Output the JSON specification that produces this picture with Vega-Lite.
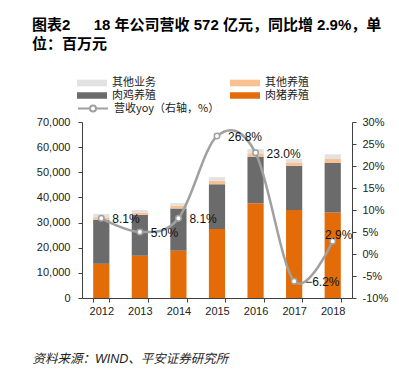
{
  "$schema": "https://vega.github.io/schema/vega-lite/v6.json",
  "width": 270,
  "height": 176,
  "autosize": {"type": "none"},
  "padding": {"left": 82, "top": 122, "right": 47, "bottom": 84},
  "background": "white",
  "config": {
    "view": {"stroke": null},
    "font": "Liberation Sans, Noto Sans CJK SC",
    "axis": {
      "domainColor": "#404040",
      "tickColor": "#404040",
      "tickSize": 4,
      "labelFont": "Liberation Sans",
      "labelFontSize": 11,
      "labelColor": "#222222",
      "grid": false
    }
  },
  "title": {
    "text": ["图表2\u3000\u00a0\u00a018 年公司营收 572 亿元，同比增 2.9%，单", "位：百万元"],
    "anchor": "start",
    "frame": "group",
    "dx": -50,
    "offset": 25,
    "fontSize": 15,
    "fontWeight": "bold",
    "font": "Liberation Sans, Noto Sans CJK SC",
    "color": "#000000",
    "lineHeight": 19.5
  },
  "datasets": {
    "rev": [
      {"year": "2012", "c": "肉猪养殖", "v": 13600},
      {"year": "2012", "c": "肉鸡养殖", "v": 17500},
      {"year": "2012", "c": "其他养殖", "v": 1000},
      {"year": "2012", "c": "其他业务", "v": 1350},
      {"year": "2013", "c": "肉猪养殖", "v": 16800},
      {"year": "2013", "c": "肉鸡养殖", "v": 16250},
      {"year": "2013", "c": "其他养殖", "v": 900},
      {"year": "2013", "c": "其他业务", "v": 1100},
      {"year": "2014", "c": "肉猪养殖", "v": 18800},
      {"year": "2014", "c": "肉鸡养殖", "v": 16800},
      {"year": "2014", "c": "其他养殖", "v": 1050},
      {"year": "2014", "c": "其他业务", "v": 1100},
      {"year": "2015", "c": "肉猪养殖", "v": 27400},
      {"year": "2015", "c": "肉鸡养殖", "v": 17850},
      {"year": "2015", "c": "其他养殖", "v": 1400},
      {"year": "2015", "c": "其他业务", "v": 1350},
      {"year": "2016", "c": "肉猪养殖", "v": 37700},
      {"year": "2016", "c": "肉鸡养殖", "v": 18500},
      {"year": "2016", "c": "其他养殖", "v": 1350},
      {"year": "2016", "c": "其他业务", "v": 1700},
      {"year": "2017", "c": "肉猪养殖", "v": 35000},
      {"year": "2017", "c": "肉鸡养殖", "v": 17600},
      {"year": "2017", "c": "其他养殖", "v": 1350},
      {"year": "2017", "c": "其他业务", "v": 1300},
      {"year": "2018", "c": "肉猪养殖", "v": 34000},
      {"year": "2018", "c": "肉鸡养殖", "v": 19700},
      {"year": "2018", "c": "其他养殖", "v": 1600},
      {"year": "2018", "c": "其他业务", "v": 1850}
    ],
    "yoy": [
      {"year": "2012", "yoy": 8.1},
      {"year": "2013", "yoy": 5.0},
      {"year": "2014", "yoy": 8.1},
      {"year": "2015", "yoy": 26.8},
      {"year": "2016", "yoy": 23.0},
      {"year": "2017", "yoy": -6.2},
      {"year": "2018", "yoy": 2.9}
    ]
  },
  "layer": [
    {
      "data": {"name": "rev"},
      "transform": [
        {"calculate": "indexof(['肉猪养殖','肉鸡养殖','其他养殖','其他业务'], datum.c)", "as": "ord"}
      ],
      "mark": {"type": "bar"},
      "encoding": {
        "x": {
          "field": "year",
          "type": "ordinal",
          "scale": {"paddingInner": 0.58, "paddingOuter": 0.29},
          "axis": {
            "title": "资料来源：WIND、平安证券研究所",
            "titleFont": "Liberation Sans, Noto Sans CJK SC",
            "titleFontStyle": "italic",
            "titleFontWeight": "normal",
            "titleFontSize": 12.5,
            "titleColor": "#222222",
            "titleX": -50,
            "titleY": 60,
            "titleAlign": "left",
            "titleBaseline": "middle",
            "labelAngle": 0,
            "labelPadding": 3,
            "tickBand": "extent"
          }
        },
        "y": {
          "field": "v",
          "type": "quantitative",
          "stack": "zero",
          "scale": {"domain": [0, 70000], "nice": false},
          "axis": {
            "title": null,
            "values": [0, 10000, 20000, 30000, 40000, 50000, 60000, 70000],
            "format": ",.0f",
            "labelPadding": 8
          }
        },
        "color": {
          "field": "c",
          "type": "nominal",
          "scale": {
            "domain": ["其他业务", "肉鸡养殖", "其他养殖", "肉猪养殖"],
            "range": ["#E2E2E2", "#6B6B6B", "#FAC090", "#E36C09"]
          },
          "legend": {
            "title": null,
            "orient": "none",
            "legendX": -5,
            "legendY": -45,
            "columns": 2,
            "columnPadding": 74,
            "rowPadding": 0.5,
            "clipHeight": 12,
            "symbolType": "M-1,-0.22H1V0.22H-1Z",
            "symbolSize": 900,
            "symbolStrokeWidth": 0,
            "labelOffset": 5,
            "labelFont": "Noto Sans CJK SC",
            "labelFontSize": 11,
            "labelColor": "#222222"
          }
        },
        "order": {"field": "ord", "type": "quantitative", "sort": "ascending"}
      }
    },
    {
      "data": {"name": "yoy"},
      "transform": [
        {"calculate": "format(datum.yoy, '.1f') + '%'", "as": "lab"}
      ],
      "encoding": {
        "x": {"field": "year", "type": "ordinal"},
        "y": {
          "field": "yoy",
          "type": "quantitative",
          "scale": {"domain": [-10, 30], "nice": false},
          "axis": {
            "title": null,
            "orient": "right",
            "values": [-10, -5, 0, 5, 10, 15, 20, 25, 30],
            "labelExpr": "datum.value + '%'",
            "labelPadding": 6
          }
        }
      },
      "layer": [
        {
          "mark": {"type": "line", "interpolate": "cardinal", "strokeWidth": 2.5},
          "encoding": {
            "stroke": {
              "datum": "营收yoy（右轴，%）",
              "type": "nominal",
              "scale": {"range": ["#A0A0A0"]},
              "legend": {
                "title": null,
                "orient": "none",
                "legendX": -5,
                "legendY": -19.5,
                "clipHeight": 12,
                "symbolType": "M-1,0H-0.2M0.2,0H1M0.2,0A0.2,0.2,0,1,1,-0.2,0A0.2,0.2,0,1,1,0.2,0Z",
                "symbolSize": 900,
                "symbolStrokeWidth": 2,
                "symbolFillColor": "#ffffff",
                "symbolStrokeColor": "#A0A0A0",
                "labelOffset": 5,
                "labelFont": "Noto Sans CJK SC",
                "labelFontSize": 11,
                "labelColor": "#222222"
              }
            }
          }
        },
        {
          "mark": {"type": "point", "filled": true, "fill": "#ffffff", "stroke": "#A0A0A0", "strokeWidth": 1.5, "size": 30, "opacity": 1}
        },
        {
          "transform": [{"filter": "datum.year != '2018'"}],
          "mark": {"type": "text", "align": "left", "baseline": "middle", "dx": 11, "dy": 1, "font": "Liberation Sans", "fontSize": 12, "color": "#111111"},
          "encoding": {"text": {"field": "lab"}}
        },
        {
          "transform": [{"filter": "datum.year == '2018'"}],
          "mark": {"type": "text", "align": "center", "baseline": "middle", "dx": 6, "dy": -6, "font": "Liberation Sans", "fontSize": 12, "color": "#111111"},
          "encoding": {"text": {"field": "lab"}}
        }
      ]
    }
  ],
  "resolve": {"scale": {"y": "independent"}}
}
